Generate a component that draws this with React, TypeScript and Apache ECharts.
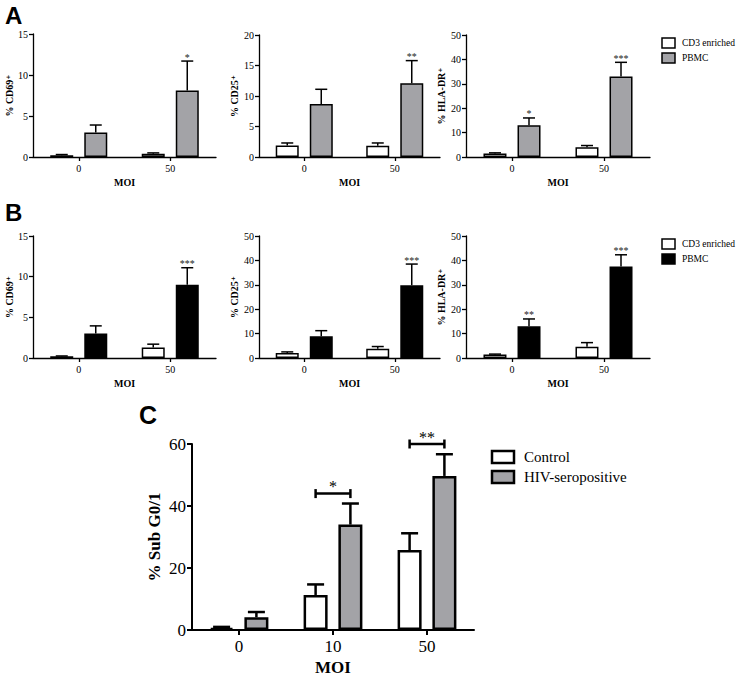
import { useEffect, useRef } from 'react';
import * as echarts from 'echarts';

const SERIF = 'Liberation Serif, DejaVu Serif, serif';
const SANS = 'Liberation Sans, Arial, sans-serif';
const GRAY = '#a3a3a7';
const BLACK = '#000000';

// Categories
const moiAB = ['0', '50'];
const moiC = ['0', '10', '50'];

// Panel A (CD3 enriched vs PBMC)
const aCD69Cd3 = [0.2, 0.4];
const aCD69Cd3Err = [0.1, 0.1];
const aCD69Pbmc = [3.0, 8.1];
const aCD69PbmcErr = [0.9, 3.6];
const aCD69Stars = ['', '*'];

const aCD25Cd3 = [1.9, 1.85];
const aCD25Cd3Err = [0.4, 0.45];
const aCD25Pbmc = [8.7, 12.1];
const aCD25PbmcErr = [2.4, 3.7];
const aCD25Stars = ['', '**'];

const aHLACd3 = [1.4, 4.0];
const aHLACd3Err = [0.3, 0.7];
const aHLAPbmc = [13.0, 33.0];
const aHLAPbmcErr = [3.0, 5.8];
const aHLAStars = ['*', '***'];

// Panel B
const bCD69Cd3 = [0.2, 1.3];
const bCD69Cd3Err = [0.05, 0.4];
const bCD69Pbmc = [3.0, 9.0];
const bCD69PbmcErr = [0.95, 2.1];
const bCD69Stars = ['', '***'];

const bCD25Cd3 = [2.0, 3.8];
const bCD25Cd3Err = [0.5, 0.9];
const bCD25Pbmc = [8.9, 29.8];
const bCD25PbmcErr = [2.3, 8.7];
const bCD25Stars = ['', '***'];

const bHLACd3 = [1.4, 4.6];
const bHLACd3Err = [0.2, 1.7];
const bHLAPbmc = [13.0, 37.5];
const bHLAPbmcErr = [3.0, 4.8];
const bHLAStars = ['**', '***'];

// Panel C
const cControl = [0.7, 11.3, 25.8];
const cControlErr = [0.3, 3.4, 5.4];
const cHiv = [4.1, 34.0, 49.7];
const cHivErr = [1.7, 6.8, 7.0];
const cBracketCats = [1, 2];
const cBracketLevels = [44, 60];
const cBracketStars = ['*', '**'];

const errRender = (off: number, capW: number, lw: number, stars: string[] | null, starSize: number) =>
  (params: any, api: any) => {
    const ci = api.value(0);
    const v = api.value(1);
    const e = api.value(2);
    const p0 = api.coord([ci, v]);
    const p1 = api.coord([ci, v + e]);
    const x = p0[0] + off;
    const children: any[] = [
      { type: 'line', shape: { x1: x, y1: p0[1], x2: x, y2: p1[1] }, style: { stroke: '#000', lineWidth: lw } },
      { type: 'line', shape: { x1: x - capW / 2, y1: p1[1], x2: x + capW / 2, y2: p1[1] }, style: { stroke: '#000', lineWidth: lw } },
    ];
    const s = stars ? stars[params.dataIndex] : '';
    if (s) {
      children.push({
        type: 'text', x, y: p1[1] + 1,
        style: { text: s, fill: '#222', font: `${starSize}px ${SERIF}`, align: 'center', verticalAlign: 'bottom' },
      });
    }
    return { type: 'group', children };
  };

export default function App() {
  const ref = useRef<HTMLDivElement>(null);
  useEffect(() => {
    if (!ref.current) return;
    const chart = echarts.init(ref.current, null, { renderer: 'svg' });

    const panels = [
      { grid: { left: 33, top: 34, width: 183, height: 123 }, max: 15, interval: 5, label: '% CD69⁺', gap: 17, cd3: aCD69Cd3, cd3Err: aCD69Cd3Err, pb: aCD69Pbmc, pbErr: aCD69PbmcErr, stars: aCD69Stars, color: GRAY },
      { grid: { left: 259, top: 35, width: 181, height: 122 }, max: 20, interval: 5, label: '% CD25⁺', gap: 20, cd3: aCD25Cd3, cd3Err: aCD25Cd3Err, pb: aCD25Pbmc, pbErr: aCD25PbmcErr, stars: aCD25Stars, color: GRAY },
      { grid: { left: 466, top: 35, width: 184, height: 122 }, max: 50, interval: 10, label: '% HLA-DR⁺', gap: 20, cd3: aHLACd3, cd3Err: aHLACd3Err, pb: aHLAPbmc, pbErr: aHLAPbmcErr, stars: aHLAStars, color: GRAY },
      { grid: { left: 33, top: 236, width: 183, height: 122 }, max: 15, interval: 5, label: '% CD69⁺', gap: 17, cd3: bCD69Cd3, cd3Err: bCD69Cd3Err, pb: bCD69Pbmc, pbErr: bCD69PbmcErr, stars: bCD69Stars, color: BLACK },
      { grid: { left: 259, top: 236, width: 181, height: 122 }, max: 50, interval: 10, label: '% CD25⁺', gap: 20, cd3: bCD25Cd3, cd3Err: bCD25Cd3Err, pb: bCD25Pbmc, pbErr: bCD25PbmcErr, stars: bCD25Stars, color: BLACK },
      { grid: { left: 466, top: 236, width: 184, height: 122 }, max: 50, interval: 10, label: '% HLA-DR⁺', gap: 20, cd3: bHLACd3, cd3Err: bHLACd3Err, pb: bHLAPbmc, pbErr: bHLAPbmcErr, stars: bHLAStars, color: BLACK },
    ];

    const grids: any[] = [];
    const xAxes: any[] = [];
    const yAxes: any[] = [];
    const series: any[] = [];

    const axisLine = { show: true, lineStyle: { color: '#000', width: 1.3 } };

    panels.forEach((p, k) => {
      grids.push({ ...p.grid, containLabel: false, outerBoundsMode: 'none' });
      xAxes.push({
        type: 'category', gridIndex: k, data: moiAB,
        axisLine, axisTick: { show: true, alignWithLabel: true, length: 4, lineStyle: { color: '#000', width: 1.3 } },
        axisLabel: { color: '#000', fontFamily: SERIF, fontSize: 10, margin: 6 },
        name: 'MOI', nameLocation: 'middle', nameGap: 20,
        nameTextStyle: { color: '#000', fontFamily: SERIF, fontWeight: 'bold', fontSize: 10 },
      });
      yAxes.push({
        type: 'value', gridIndex: k, min: 0, max: p.max, interval: p.interval,
        axisLine, axisTick: { show: true, length: 4, lineStyle: { color: '#000', width: 1.3 } },
        axisLabel: { color: '#000', fontFamily: SERIF, fontSize: 10, margin: 5 },
        splitLine: { show: false },
        name: p.label, nameLocation: 'middle', nameGap: p.gap, nameRotate: 90,
        nameTextStyle: { color: '#000', fontFamily: SERIF, fontWeight: 'bold', fontSize: 10 },
      });
      series.push(
        { type: 'bar', name: 'CD3 enriched', xAxisIndex: k, yAxisIndex: k, data: p.cd3, barWidth: 23, barGap: '48%', itemStyle: { color: '#fff', borderColor: '#000', borderWidth: 1.5 }, silent: true },
        { type: 'bar', name: 'PBMC', xAxisIndex: k, yAxisIndex: k, data: p.pb, barWidth: 23, barGap: '48%', itemStyle: { color: p.color, borderColor: '#000', borderWidth: 1.5 }, silent: true },
        { type: 'custom', xAxisIndex: k, yAxisIndex: k, clip: false, z: 5, encode: { x: 0, y: 1 },
          data: moiAB.map((_, i) => [i, p.cd3[i], p.cd3Err[i]]), renderItem: errRender(-17, 12, 1.5, null, 10) },
        { type: 'custom', xAxisIndex: k, yAxisIndex: k, clip: false, z: 5, encode: { x: 0, y: 1 },
          data: moiAB.map((_, i) => [i, p.pb[i], p.pbErr[i]]), renderItem: errRender(17, 12, 1.5, p.stars, 10) },
      );
    });

    // Panel C
    const kc = panels.length;
    grids.push({ left: 192, top: 444, width: 282, height: 186, containLabel: false, outerBoundsMode: 'none' });
    xAxes.push({
      type: 'category', gridIndex: kc, data: moiC,
      axisLine: { show: true, lineStyle: { color: '#000', width: 2 } },
      axisTick: { show: true, alignWithLabel: true, length: 5, lineStyle: { color: '#000', width: 2 } },
      axisLabel: { color: '#000', fontFamily: SERIF, fontSize: 17, margin: 8 },
      name: 'MOI', nameLocation: 'middle', nameGap: 29,
      nameTextStyle: { color: '#000', fontFamily: SERIF, fontWeight: 'bold', fontSize: 17 },
    });
    yAxes.push({
      type: 'value', gridIndex: kc, min: 0, max: 60, interval: 20,
      axisLine: { show: true, lineStyle: { color: '#000', width: 2 } },
      axisTick: { show: true, length: 5, lineStyle: { color: '#000', width: 2 } },
      axisLabel: { color: '#000', fontFamily: SERIF, fontSize: 17, margin: 6 },
      splitLine: { show: false },
      name: '% Sub G0/1', nameLocation: 'middle', nameGap: 29, nameRotate: 90,
      nameTextStyle: { color: '#000', fontFamily: SERIF, fontWeight: 'bold', fontSize: 17 },
    });
    series.push(
      { type: 'bar', name: 'Control', xAxisIndex: kc, yAxisIndex: kc, data: cControl, barWidth: 24, barGap: '45%', itemStyle: { color: '#fff', borderColor: '#000', borderWidth: 2.5 }, silent: true },
      { type: 'bar', name: 'HIV-seropositive', xAxisIndex: kc, yAxisIndex: kc, data: cHiv, barWidth: 24, barGap: '45%', itemStyle: { color: GRAY, borderColor: '#000', borderWidth: 2.5 }, silent: true },
      { type: 'custom', xAxisIndex: kc, yAxisIndex: kc, clip: false, z: 5, encode: { x: 0, y: 1 },
        data: moiC.map((_, i) => [i, cControl[i], cControlErr[i]]), renderItem: errRender(-17.4, 17, 2.5, null, 16) },
      { type: 'custom', xAxisIndex: kc, yAxisIndex: kc, clip: false, z: 5, encode: { x: 0, y: 1 },
        data: moiC.map((_, i) => [i, cHiv[i], cHivErr[i]]), renderItem: errRender(17.4, 17, 2.5, null, 16) },
      { type: 'custom', xAxisIndex: kc, yAxisIndex: kc, clip: false, z: 6, encode: { x: 0, y: 1 },
        data: cBracketCats.map((c, i) => [c, cBracketLevels[i]]),
        renderItem: (params: any, api: any) => {
          const c = api.coord([api.value(0), api.value(1)]);
          const x1 = c[0] - 17.4;
          const x2 = c[0] + 17.4;
          const y = c[1];
          const st = { stroke: '#000', lineWidth: 2.5 };
          return {
            type: 'group',
            children: [
              { type: 'line', shape: { x1, y1: y, x2, y2: y }, style: st },
              { type: 'line', shape: { x1, y1: y - 4.5, x2: x1, y2: y + 4.5 }, style: st },
              { type: 'line', shape: { x1: x2, y1: y - 4.5, x2, y2: y + 4.5 }, style: st },
              { type: 'text', x: c[0], y: y + 1, style: { text: cBracketStars[params.dataIndex], fill: '#000', font: `16px ${SERIF}`, align: 'center', verticalAlign: 'bottom' } },
            ],
          };
        },
      },
    );

    const legendAB = (top: number, color: string) => [
      { type: 'rect', shape: { x: 662, y: top, width: 13, height: 10 }, style: { fill: '#fff', stroke: '#000', lineWidth: 1.5 } },
      { type: 'text', x: 682, y: top + 5, style: { text: 'CD3 enriched', fill: '#000', font: `9.5px ${SERIF}`, verticalAlign: 'middle' } },
      { type: 'rect', shape: { x: 662, y: top + 15, width: 13, height: 10 }, style: { fill: color, stroke: '#000', lineWidth: 1.5 } },
      { type: 'text', x: 682, y: top + 20, style: { text: 'PBMC', fill: '#000', font: `9.5px ${SERIF}`, verticalAlign: 'middle' } },
    ];

    const graphic: any[] = [
      { type: 'text', x: 5, y: 3, style: { text: 'A', fill: '#000', font: `bold 24px ${SANS}`, verticalAlign: 'top' } },
      { type: 'text', x: 5, y: 200, style: { text: 'B', fill: '#000', font: `bold 24px ${SANS}`, verticalAlign: 'top' } },
      { type: 'text', x: 139, y: 402, style: { text: 'C', fill: '#000', font: `bold 25px ${SANS}`, verticalAlign: 'top' } },
      ...legendAB(38, GRAY),
      ...legendAB(239, BLACK),
      { type: 'rect', shape: { x: 492, y: 451, width: 22, height: 12 }, style: { fill: '#fff', stroke: '#000', lineWidth: 2.5 } },
      { type: 'text', x: 524, y: 457, style: { text: 'Control', fill: '#000', font: `15px ${SERIF}`, verticalAlign: 'middle' } },
      { type: 'rect', shape: { x: 492, y: 471, width: 22, height: 12 }, style: { fill: GRAY, stroke: '#000', lineWidth: 2.5 } },
      { type: 'text', x: 524, y: 477, style: { text: 'HIV-seropositive', fill: '#000', font: `15px ${SERIF}`, verticalAlign: 'middle' } },
    ];

    chart.setOption({
      animation: false,
      backgroundColor: '#fff',
      grid: grids,
      xAxis: xAxes,
      yAxis: yAxes,
      series,
      graphic,
    });
    return () => chart.dispose();
  }, []);

  return <div ref={ref} style={{ position: 'fixed', left: 0, top: 0, width: 740, height: 678 }} />;
}
